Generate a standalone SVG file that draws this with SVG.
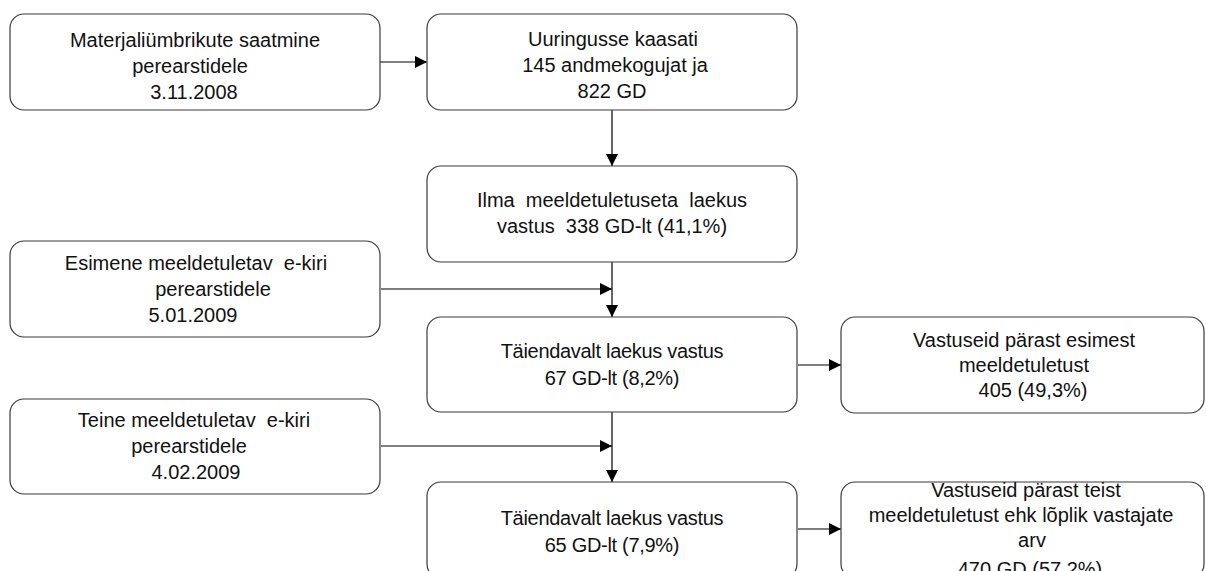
<svg xmlns="http://www.w3.org/2000/svg" width="1206" height="571" viewBox="0 0 1206 571">
<style>
.box{fill:#fff;stroke:#3a3a3a;stroke-width:1.2}
.t{font-family:"Liberation Sans",Arial,sans-serif;font-size:20px;fill:#111;text-anchor:middle}
.n{font-size:20px;letter-spacing:-0.3px}
.c{fill:none;stroke:#000;stroke-width:1.2}
</style>
<defs>
<marker id="ah" viewBox="0 0 12 12" refX="12" refY="6" markerWidth="12" markerHeight="12" markerUnits="userSpaceOnUse" orient="auto">
<path d="M0,0 L12,6 L0,12 Z" fill="#000"/>
</marker>
</defs>
<rect width="1206" height="571" fill="#fff"/>
<g id="connectors">
<line class="c" x1="380" y1="62" x2="427" y2="62" marker-end="url(#ah)"/>
<line class="c" x1="612" y1="110" x2="612" y2="166" marker-end="url(#ah)"/>
<line class="c" x1="612" y1="262" x2="612" y2="317" marker-end="url(#ah)"/>
<line class="c" x1="381" y1="289" x2="612" y2="289" marker-end="url(#ah)"/>
<line class="c" x1="612" y1="412" x2="612" y2="482" marker-end="url(#ah)"/>
<line class="c" x1="381" y1="446" x2="612" y2="446" marker-end="url(#ah)"/>
<line class="c" x1="798" y1="365" x2="841" y2="365" marker-end="url(#ah)"/>
<line class="c" x1="798" y1="529" x2="841" y2="529" marker-end="url(#ah)"/>
</g>
<g id="n1">
<rect class="box" x="10" y="14" width="370" height="96" rx="14"/>
<text class="t" x="195" y="47">Materjaliümbrikute saatmine</text>
<text class="t" x="190" y="73">perearstidele</text>
<text class="t" x="194" y="99">3.11.2008</text>
</g>
<g id="n2">
<rect class="box" x="427" y="14" width="370" height="96" rx="14"/>
<text class="t" x="613" y="46">Uuringusse kaasati</text>
<text class="t" x="615" y="72">145 andmekogujat ja</text>
<text class="t" x="612" y="98">822 GD</text>
</g>
<g id="n3">
<rect class="box" x="427" y="166" width="370" height="96" rx="14"/>
<text class="t" x="612" y="207" xml:space="preserve">Ilma  meeldetuletuseta  laekus</text>
<text class="t" x="612" y="233" xml:space="preserve">vastus  338 GD-lt (41,1%)</text>
</g>
<g id="n4">
<rect class="box" x="10" y="241" width="370" height="96" rx="14"/>
<text class="t" x="196" y="270" xml:space="preserve">Esimene meeldetuletav  e-kiri</text>
<text class="t" x="213" y="296">perearstidele</text>
<text class="t" x="193" y="322">5.01.2009</text>
</g>
<g id="n5">
<rect class="box" x="427" y="317" width="370" height="95" rx="14"/>
<text class="t n" x="612" y="358">Täiendavalt laekus vastus</text>
<text class="t n" x="612" y="385">67 GD-lt (8,2%)</text>
</g>
<g id="n6">
<rect class="box" x="841" y="317" width="363" height="96" rx="14"/>
<text class="t" x="1024" y="347">Vastuseid pärast esimest</text>
<text class="t" x="1024" y="372">meeldetuletust</text>
<text class="t" x="1033" y="397">405 (49,3%)</text>
</g>
<g id="n7">
<rect class="box" x="10" y="399" width="370" height="95" rx="14"/>
<text class="t" x="194" y="427" xml:space="preserve">Teine meeldetuletav  e-kiri</text>
<text class="t" x="189" y="453">perearstidele</text>
<text class="t" x="196" y="479">4.02.2009</text>
</g>
<g id="n8">
<rect class="box" x="427" y="482" width="370" height="96" rx="14"/>
<text class="t n" x="612" y="525">Täiendavalt laekus vastus</text>
<text class="t n" x="612" y="552">65 GD-lt (7,9%)</text>
</g>
<g id="n9">
<rect class="box" x="841" y="482" width="363" height="96" rx="14"/>
<text class="t" x="1026" y="497">Vastuseid pärast teist</text>
<text class="t" x="1021" y="522">meeldetuletust ehk lõplik vastajate</text>
<text class="t" x="1032" y="547">arv</text>
<text class="t" x="1030" y="576">470 GD (57,2%)</text>
</g>
</svg>
